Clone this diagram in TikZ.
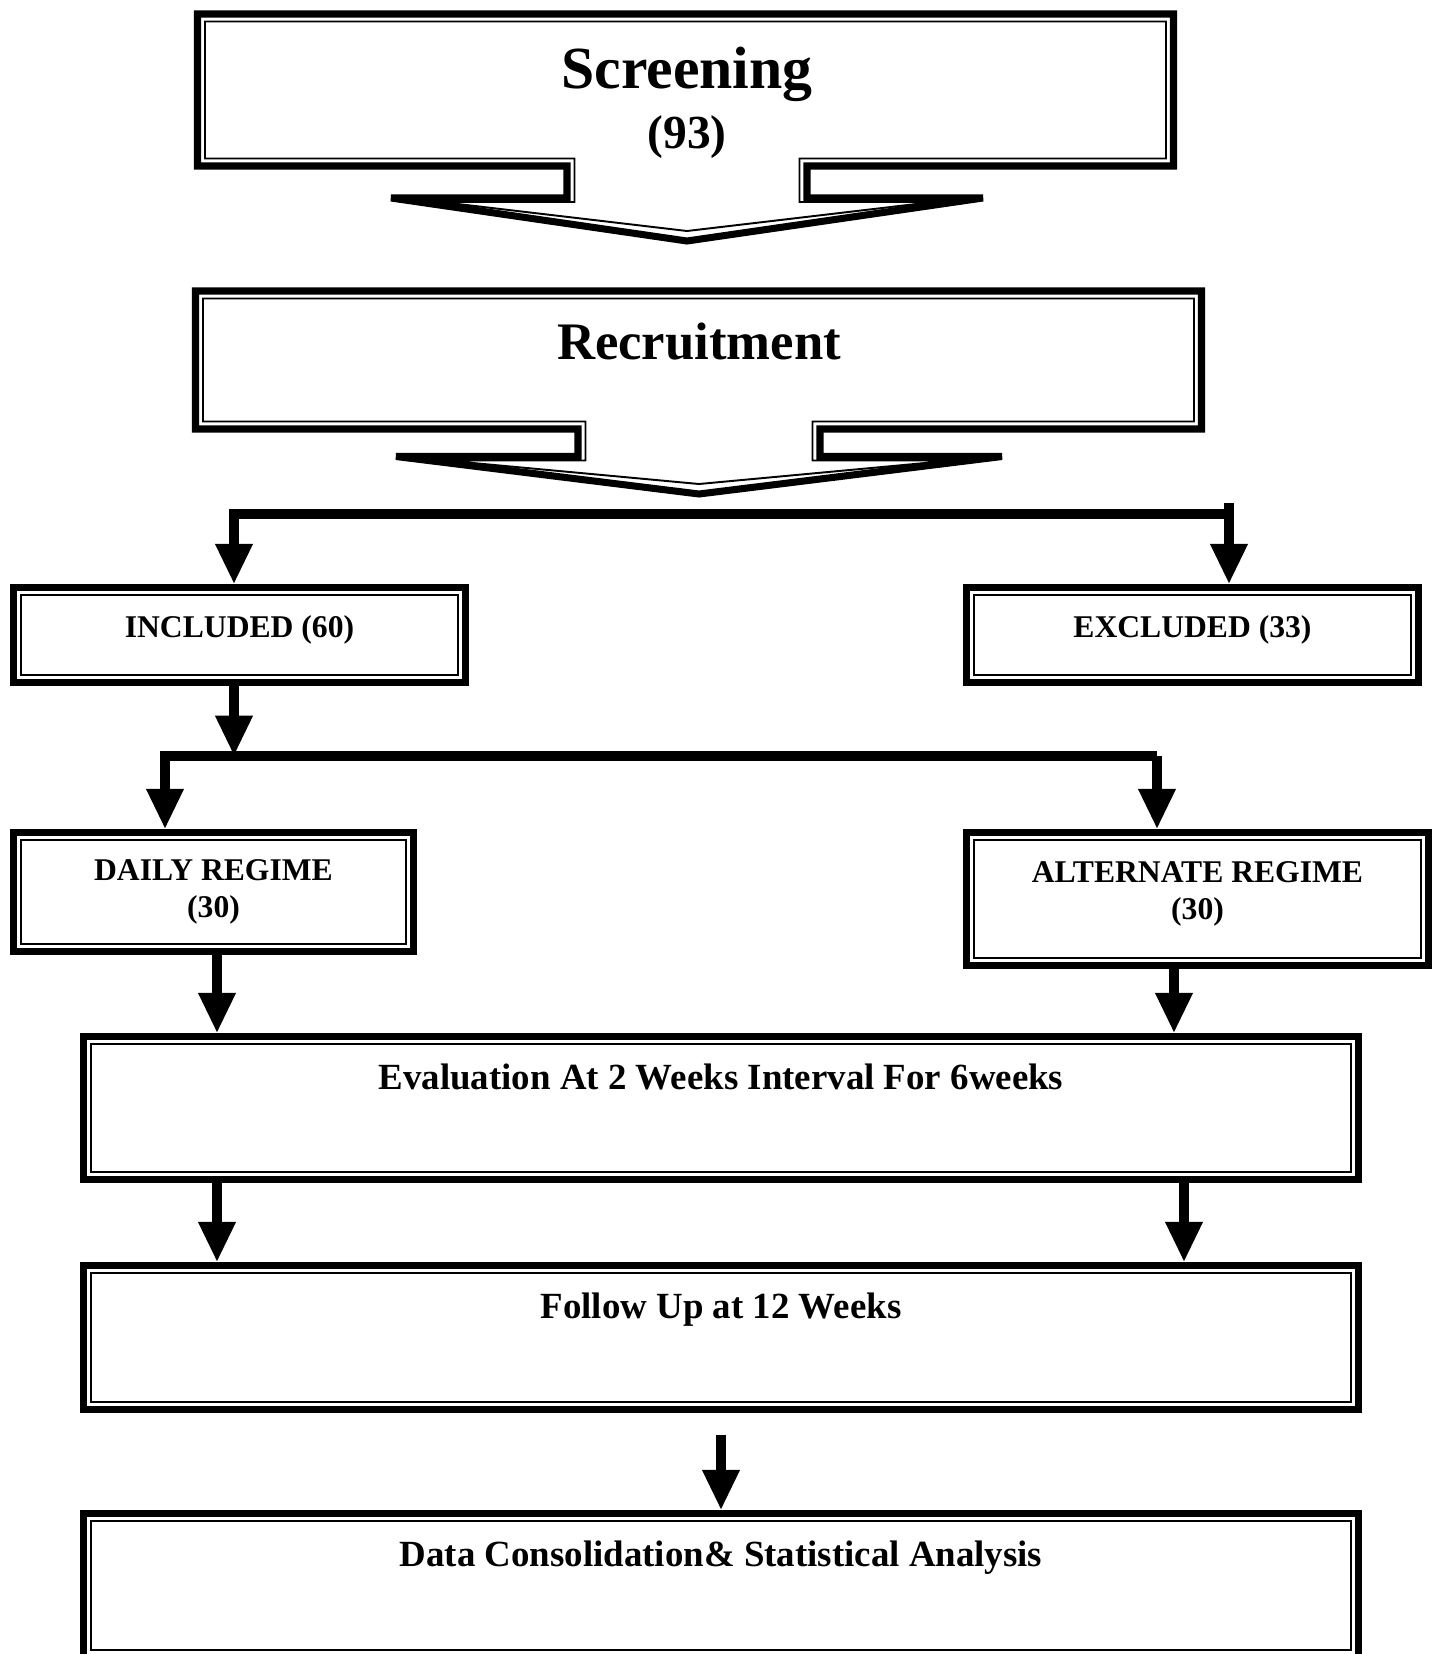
\documentclass[tikz,border=0pt]{standalone}
\usepackage{fontspec}
\setmainfont{Liberation Serif}
\usetikzlibrary{arrows.meta}
\tikzstyle{box} = [draw, line width=3.8pt, inner sep=0pt, align=center,
  font=\bfseries\fontsize{18}{21}\selectfont,
  path picture={\draw[line width=1.1pt] ([shift={(4.2pt,-4.2pt)}]path picture bounding box.north west) rectangle ([shift={(-4.2pt,4.2pt)}]path picture bounding box.south east);}]
\tikzstyle{bigbox} = [box, font=\bfseries\fontsize{21}{25}\selectfont, text depth=36pt]
\tikzstyle{title} = [align=center, font=\bfseries\fontsize{34}{34}\selectfont]
\tikzstyle{conn} = [line width=5.5pt]
\tikzstyle{arr} = [conn, -{Triangle[length=23pt, width=20pt]}]
\tikzstyle{outline} = [line width=4pt]
\tikzstyle{innerline} = [line width=1.1pt]
% box with a downward arrow below it:
% left, right, top, bottom, centre, stem, head, bar, tip
\newcommand{\calloutbox}[9]{%
  \draw[outline] (#1,#3) -- (#2,#3) -- (#2,#4) -- ({#5+#6},#4) -- ({#5+#6},#8) -- ({#5+#7},#8) -- (#5,#9)
    -- ({#5-#7},#8) -- ({#5-#6},#8) -- ({#5-#6},#4) -- (#1,#4) -- cycle;
  \draw[innerline] ({#1+7.5},{#3+7.5}) -- ({#2-7.5},{#3+7.5}) -- ({#2-7.5},{#4-7.5}) -- ({#5+#6-7.5},{#4-7.5})
    -- ({#5+#6-7.5},{#8+4}) -- ({#5+#7-50},{#8+4}) -- (#5,{#9-10}) -- ({#5-#7+50},{#8+4})
    -- ({#5-#6+7.5},{#8+4}) -- ({#5-#6+7.5},{#4-7.5}) -- ({#1+7.5},{#4-7.5}) -- cycle;}

\begin{document}
\begin{tikzpicture}[x=0.02cm, y=-0.02cm]
\path[use as bounding box, fill=white] (0,0) rectangle (1437,1654);

% top two stages
\calloutbox{197.5}{1173.5}{14}{166}{687}{120}{296}{198}{241}
\node[title] (scr) at (687,103) {Screening\\{\fontsize{27}{34}\selectfont (93)}};
\calloutbox{195.5}{1201.5}{291}{429}{699}{121}{303}{456.5}{494}
\node[title, font=\bfseries\fontsize{30}{34}\selectfont] (rec) at (699,342) {Recruitment};

% split
\node[box, minimum width=9.04cm, minimum height=1.9cm, text depth=9.4pt] (incl) at (239.5,635) {INCLUDED (60)};
\node[box, minimum width=9.04cm, minimum height=1.9cm, text depth=9.4pt] (excl) at (1192.5,635) {EXCLUDED (33)};
\coordinate (colI) at (234,0);
\coordinate (j1) at (1229,514);
\coordinate (j1t) at (1229,503);
\draw[arr] (j1) -| (colI |- incl.north);
\draw[arr] (j1t) -- (j1t |- excl.north);

% regimes
\node[box, minimum width=8.0cm, minimum height=2.38cm] (daily) at (213.5,892) {DAILY REGIME\\(30)};
\node[box, minimum width=9.24cm, minimum height=2.66cm, text depth=9.2pt] (alt) at (1197.5,899) {ALTERNATE REGIME\\(30)};
\coordinate (j2l) at (165,756);
\coordinate (j2r) at (1157,756);
\draw[arr] (colI |- incl.south) -- (colI |- j2l);
\draw[arr] (j2r) -| (daily.north -| j2l);
\draw[arr] (j2r) -- (alt.north -| j2r);

% follow up
\node[bigbox, minimum width=25.5cm, minimum height=2.86cm] (eval) at (721,1108) {Evaluation At 2 Weeks Interval For 6weeks};
\node[bigbox, minimum width=25.5cm, minimum height=2.88cm] (fol) at (721,1337.5) {Follow Up at 12 Weeks};
\node[bigbox, minimum width=25.5cm, minimum height=2.88cm] (data) at (721,1585.5) {Data Consolidation\& Statistical Analysis};
\coordinate (colL) at (217,0);
\coordinate (colA) at (1174,0);
\coordinate (colR) at (1184,0);
\draw[arr] (colL |- daily.south) -- (colL |- eval.north);
\draw[arr] (colA |- alt.south) -- (colA |- eval.north);
\draw[arr] (colL |- eval.south) -- (colL |- fol.north);
\draw[arr] (colR |- eval.south) -- (colR |- fol.north);
\draw[arr] ([yshift=-12.5pt]fol.south) -- (data.north);
\end{tikzpicture}
\end{document}
